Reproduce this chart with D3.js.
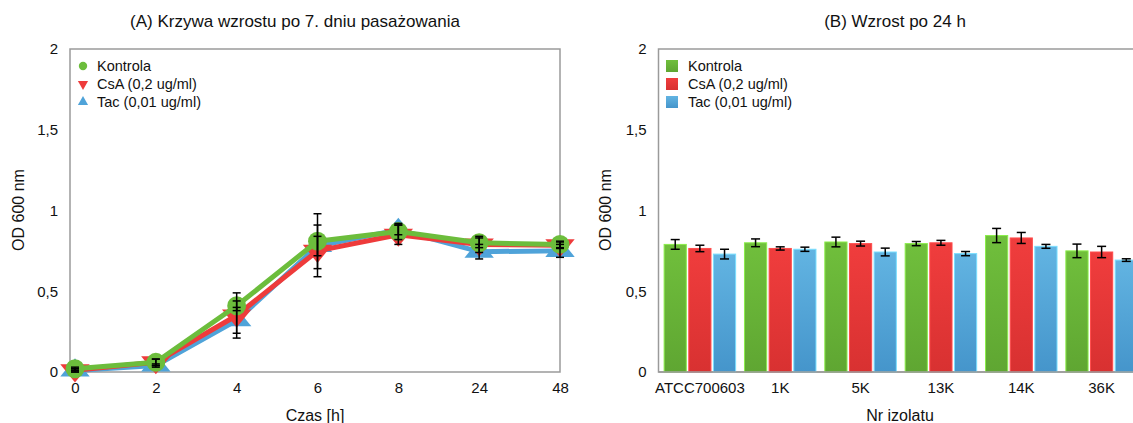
<!DOCTYPE html>
<meta charset="utf-8">
<style>
  body { margin: 0; background: #fff; }
  text { font-family: "Liberation Sans", Arial, Helvetica, sans-serif; fill: #111; }
</style>
<script src="https://d3js.org/d3.v7.min.js"></script>
<div id="chart"></div>
<script>

// ---- data (A) growth curve ----
var times = ["0", "2", "4", "6", "8", "24", "48"];
var kontrola    = [0.02, 0.06, 0.41, 0.81, 0.87, 0.80, 0.79];
var kontrolaErr = [0.01, 0.02, 0.03, 0.17, 0.05, 0.03, 0.02];
var csa         = [0.01, 0.06, 0.35, 0.75, 0.85, 0.79, 0.785];
var csaErr      = [0.01, 0.02, 0.14, 0.16, 0.06, 0.05, 0.02];
var tac         = [0.01, 0.04, 0.32, 0.78, 0.88, 0.745, 0.75];
var tacErr      = [0.01, 0.01, 0.08, 0.06, 0.03, 0.045, 0.04];

// ---- data (B) growth after 24 h ----
var isolates = ["ATCC700603", "1K", "5K", "13K", "14K", "36K"];
var kontrolaB    = [0.79, 0.80, 0.805, 0.795, 0.845, 0.75];
var kontrolaBErr = [0.03, 0.024, 0.03, 0.013, 0.044, 0.042];
var csaB         = [0.765, 0.765, 0.795, 0.80, 0.83, 0.743];
var csaBErr      = [0.02, 0.01, 0.015, 0.015, 0.034, 0.035];
var tacB         = [0.73, 0.76, 0.743, 0.733, 0.778, 0.693];
var tacBErr      = [0.03, 0.013, 0.024, 0.013, 0.012, 0.008];

var seriesNames = ["Kontrola", "CsA (0,2 ug/ml)", "Tac (0,01 ug/ml)"];
var yTicks = [0, 0.5, 1, 1.5, 2];

var colors = ["#6cbd3c", "#ee3b3b", "#4fa3d9"];
var gradTop = ["#70bf3c", "#f03d3d", "#62b4e2"];
var gradBot = ["#5fa632", "#d83131", "#4595cb"];

var W = 1133, H = 423;
var svg = d3.select("#chart").append("svg")
  .attr("width", W).attr("height", H);

var fmt = function(d) { return String(d).replace(".", ","); };

// gradients for bars
var defs = svg.append("defs");
gradTop.forEach(function(c, i) {
  var g = defs.append("linearGradient").attr("id", "grad" + i)
    .attr("x1", 0).attr("y1", 0).attr("x2", 0).attr("y2", 1);
  g.append("stop").attr("offset", "0%").attr("stop-color", gradTop[i]);
  g.append("stop").attr("offset", "100%").attr("stop-color", gradBot[i]);
});

// shared y scale (both panels use same vertical extent)
var y = d3.scaleLinear().domain([0, 2]).range([372, 49]);

function yAxis(g, left) {
  var ax = g.append("g")
    .attr("transform", "translate(" + left + ",0)")
    .call(d3.axisLeft(y).tickValues(yTicks).tickFormat(fmt).tickSize(0).tickPadding(12));
  ax.select(".domain").remove();
  ax.selectAll("text").style("font-size", "15px").attr("font-family", null);
}

function errorBars(g, xs, vals, errs, cap) {
  vals.forEach(function(v, i) {
    var x = xs(i);
    var e = errs[i];
    var eg = g.append("g").attr("stroke", "#000").attr("stroke-width", 1.5);
    eg.append("line").attr("x1", x).attr("x2", x).attr("y1", y(v - e)).attr("y2", y(v + e));
    eg.append("line").attr("x1", x - cap).attr("x2", x + cap).attr("y1", y(v - e)).attr("y2", y(v - e));
    eg.append("line").attr("x1", x - cap).attr("x2", x + cap).attr("y1", y(v + e)).attr("y2", y(v + e));
  });
}

// =================== panel A ===================
var gA = svg.append("g");
var xA = d3.scalePoint().domain(times).range([75, 560]);

gA.append("rect")
  .attr("x", 70).attr("y", y(2)).attr("width", 490).attr("height", y(0) - y(2))
  .attr("fill", "none").attr("stroke", "#9a9a9a").attr("stroke-width", 1.5);

yAxis(gA, 70);

var axA = gA.append("g")
  .attr("transform", "translate(0," + y(0) + ")")
  .call(d3.axisBottom(xA).tickSize(0).tickPadding(10));
axA.select(".domain").remove();
axA.selectAll("text").style("font-size", "15px").attr("font-family", null);

var line = d3.line()
  .x(function(d, i) { return xA(times[i]); })
  .y(function(d) { return y(d); });

var dataA = [kontrola, csa, tac];
var errA = [kontrolaErr, csaErr, tacErr];
var symbols = [d3.symbolCircle, d3.symbolTriangle, d3.symbolTriangle];
var rotations = [0, 180, 0];
var symSize = [280, 260, 260];
var symScale = ["scale(1)", "scale(1.2,0.85)", "scale(1.2,0.85)"];

// draw order: Tac, CsA, Kontrola
[2, 1, 0].forEach(function(s) {
  gA.append("path").datum(dataA[s])
    .attr("d", line)
    .attr("fill", "none")
    .attr("stroke", colors[s])
    .attr("stroke-width", 5)
    .attr("stroke-linejoin", "round");
  gA.selectAll(".m" + s).data(dataA[s]).enter().append("path")
    .attr("class", "m" + s)
    .attr("d", d3.symbol().type(symbols[s]).size(symSize[s]))
    .attr("transform", function(d, i) {
      return "translate(" + xA(times[i]) + "," + y(d) + ") rotate(" + rotations[s] + ") " + symScale[s];
    })
    .attr("fill", colors[s]);
});

[2, 1, 0].forEach(function(s) {
  errorBars(gA, function(i) { return xA(times[i]); }, dataA[s], errA[s], 4);
});

// legend A
seriesNames.forEach(function(n, i) {
  var ly = 66 + i * 18;
  gA.append("path")
    .attr("d", d3.symbol().type(symbols[i]).size(i === 0 ? 55 : 45))
    .attr("transform", "translate(83," + ly + ") rotate(" + rotations[i] + ")")
    .attr("fill", colors[i]);
  gA.append("text").attr("x", 97).attr("y", ly + 5).style("font-size", "14.5px").text(n);
});

gA.append("text").attr("x", 295).attr("y", 27).attr("text-anchor", "middle")
  .style("font-size", "17px").text("(A) Krzywa wzrostu po 7. dniu pasażowania");
gA.append("text").attr("x", 315).attr("y", 421).attr("text-anchor", "middle")
  .style("font-size", "16px").text("Czas [h]");
gA.append("text").attr("transform", "translate(24,210) rotate(-90)").attr("text-anchor", "middle")
  .style("font-size", "16px").text("OD 600 nm");

// =================== panel B ===================
var gB = svg.append("g");
var bLeft = 658.5, bRight = 1143;
var x0 = d3.scaleBand().domain(isolates).range([bLeft, bRight]).paddingInner(0.11).paddingOuter(0.07);
var x1 = d3.scaleBand().domain(d3.range(3)).range([0, x0.bandwidth()]).paddingInner(0.1);

gB.append("rect")
  .attr("x", bLeft).attr("y", y(2)).attr("width", bRight - bLeft).attr("height", y(0) - y(2))
  .attr("fill", "none").attr("stroke", "#9a9a9a").attr("stroke-width", 1.5);

yAxis(gB, bLeft);

var axB = gB.append("g")
  .attr("transform", "translate(0," + y(0) + ")")
  .call(d3.axisBottom(x0).tickSize(0).tickPadding(10));
axB.select(".domain").remove();
axB.selectAll("text").style("font-size", "15px").attr("font-family", null);

var dataB = [kontrolaB, csaB, tacB];
var errB = [kontrolaBErr, csaBErr, tacBErr];

dataB.forEach(function(vals, s) {
  gB.selectAll(".b" + s).data(vals).enter().append("rect")
    .attr("class", "b" + s)
    .attr("x", function(d, i) { return x0(isolates[i]) + x1(s); })
    .attr("y", function(d) { return y(d); })
    .attr("width", x1.bandwidth())
    .attr("height", function(d) { return y(0) - y(d); })
    .attr("fill", "url(#grad" + s + ")")
    .attr("stroke", d3.color(gradTop[s]).brighter(0.6))
    .attr("stroke-width", 1);
});

// redraw baseline over bars
gB.append("line").attr("x1", bLeft).attr("x2", bRight).attr("y1", y(0)).attr("y2", y(0))
  .attr("stroke", "#9a9a9a").attr("stroke-width", 1.5);

dataB.forEach(function(vals, s) {
  errorBars(gB, function(i) { return x0(isolates[i]) + x1(s) + x1.bandwidth() / 2; }, vals, errB[s], 4.5);
});

// legend B
seriesNames.forEach(function(n, i) {
  var ly = 66 + i * 18;
  gB.append("rect").attr("x", 666).attr("y", ly - 6).attr("width", 12).attr("height", 12)
    .attr("fill", "url(#grad" + i + ")");
  gB.append("text").attr("x", 688).attr("y", ly + 5).style("font-size", "14.5px").text(n);
});

gB.append("text").attr("x", 895).attr("y", 27).attr("text-anchor", "middle")
  .style("font-size", "17px").text("(B) Wzrost po 24 h");
gB.append("text").attr("x", 900).attr("y", 421).attr("text-anchor", "middle")
  .style("font-size", "16px").text("Nr izolatu");
gB.append("text").attr("transform", "translate(611,210) rotate(-90)").attr("text-anchor", "middle")
  .style("font-size", "16px").text("OD 600 nm");

</script>
